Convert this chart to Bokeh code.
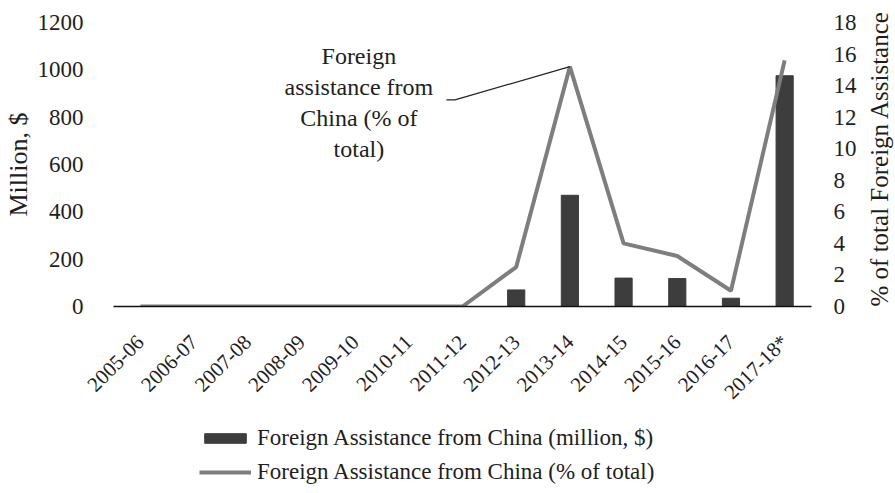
import math
from bokeh.plotting import figure
from bokeh.layouts import column
from bokeh.models import (FactorRange, Range1d, LinearAxis, Legend, LegendItem,
                          Label, FixedTicker, ColumnDataSource)
from bokeh.embed import file_html
from bokeh.resources import INLINE

# ---- data ----
years = ["2005-06", "2006-07", "2007-08", "2008-09", "2009-10", "2010-11",
         "2011-12", "2012-13", "2013-14", "2014-15", "2015-16", "2016-17", "2017-18*"]
million_usd = [0, 0, 0, 0, 0, 0, 0, 70, 470, 120, 118, 35, 975]
pct_total = [0, 0, 0, 0, 0, 0, 0, 2.5, 15.2, 4.0, 3.2, 1.0, 15.6]
left_ticks = [0, 200, 400, 600, 800, 1000, 1200]
right_ticks = [0, 2, 4, 6, 8, 10, 12, 14, 16, 18]
legend_labels = ["Foreign Assistance from China (million, $)",
                 "Foreign Assistance from China (% of total)"]

FONT = "Liberation Serif"
TXT = "#1e1e1e"
BAR = "#3d3d3d"
LINE = "#7e7e7e"

src = ColumnDataSource(dict(year=years, million=million_usd, pct=pct_total))

p = figure(x_range=FactorRange(*years, range_padding=0),
           y_range=Range1d(0, 1200),
           frame_width=698, frame_height=284,
           output_backend="svg", toolbar_location=None,
           min_border_left=108, min_border_right=75, min_border_top=22,
           min_border_bottom=96, outline_line_color=None)
p.extra_y_ranges = {"pct": Range1d(0, 18)}
p.grid.visible = False

bars = p.vbar(x="year", top="million", width=0.32, source=src,
              fill_color=BAR, line_color=BAR)
line = p.line(x="year", y="pct", source=src, y_range_name="pct",
              line_width=4, line_color=LINE)

# leader line from annotation to the 2013-14 peak
peak_i = years.index("2013-14")
p.line(x=[6.2, 6.36, peak_i + 0.5], y=[13.1, 13.1, pct_total[peak_i]],
       y_range_name="pct", line_color="#222222", line_width=1.2)

p.add_layout(Label(x=4.57, y=1115, text="Foreign\nassistance from\nChina (% of\ntotal)",
                   text_align="center", text_baseline="top", text_font=FONT,
                   text_font_size="24px", text_color=TXT, text_line_height=1.2))

# left axis
ya = p.yaxis[0]
ya.ticker = FixedTicker(ticks=left_ticks)
ya.axis_label = "Million, $"
ya.axis_line_color = None
ya.major_tick_line_color = None
ya.minor_tick_line_color = None
ya.major_label_standoff = 24
ya.major_label_text_font = FONT
ya.major_label_text_font_size = "23px"
ya.major_label_text_color = TXT
ya.axis_label_text_font = FONT
ya.axis_label_text_font_size = "26px"
ya.axis_label_text_font_style = "normal"
ya.axis_label_text_color = TXT
ya.axis_label_standoff = 2

# right axis
ra = LinearAxis(y_range_name="pct", ticker=FixedTicker(ticks=right_ticks),
                axis_label="% of total Foreign Assistance")
ra.axis_line_color = None
ra.major_tick_line_color = None
ra.minor_tick_line_color = None
ra.major_label_standoff = 16
ra.major_label_text_font = FONT
ra.major_label_text_font_size = "23px"
ra.major_label_text_color = TXT
ra.axis_label_text_font = FONT
ra.axis_label_text_font_size = "25px"
ra.axis_label_text_font_style = "normal"
ra.axis_label_text_color = TXT
ra.axis_label_standoff = 20
ra.axis_label_orientation = math.pi / 2
ra.axis_label_align = "start"
p.add_layout(ra, "right")

# x axis
xa = p.xaxis[0]
xa.axis_line_color = "#111111"
xa.axis_line_width = 1.5
xa.major_tick_line_color = None
xa.minor_tick_line_color = None
xa.major_label_orientation = math.pi / 4
xa.major_label_text_font = FONT
xa.major_label_text_font_size = "21px"
xa.major_label_text_color = TXT
xa.major_label_standoff = 26

# legend strip below the chart (proxy renderers hold no visible data)
nan = float("nan")
lf = figure(width=879, height=76, x_range=Range1d(0, 1), y_range=Range1d(0, 1),
            output_backend="svg", toolbar_location=None,
            x_axis_location=None, y_axis_location=None,
            min_border=0, outline_line_color=None)
lf.grid.visible = False
lbar = lf.vbar(x=[nan], top=[nan], width=0.32, fill_color=BAR, line_color=BAR)
lline = lf.line(x=[nan], y=[nan], line_width=4, line_color=LINE)

legend = Legend(items=[
    LegendItem(label=legend_labels[0], renderers=[lbar]),
    LegendItem(label=legend_labels[1], renderers=[lline]),
], orientation="vertical", location=(86, 5))
legend.label_text_font = FONT
legend.label_text_font_size = "23px"
legend.label_text_color = TXT
legend.label_height = 28
legend.glyph_width = 52
legend.glyph_height = 12
legend.label_standoff = 6
legend.spacing = 6
legend.padding = 0
legend.margin = 0
legend.border_line_color = None
legend.background_fill_alpha = 0
lf.add_layout(legend, "center")

open("out.html", "w").write(file_html(column(p, lf), INLINE))
